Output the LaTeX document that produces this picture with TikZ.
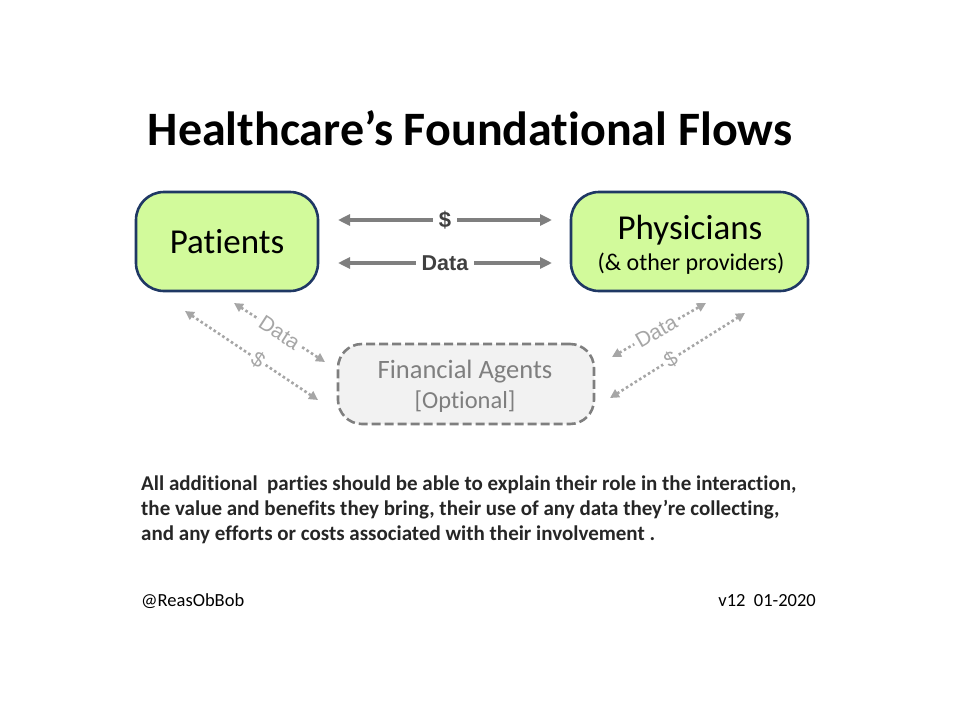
\documentclass[tikz,border=0pt]{standalone}
\usepackage{fontspec}
\setmainfont{Carlito}[Ligatures={NoCommon}]
\newfontfamily\arialf{Liberation Sans}
\usetikzlibrary{arrows.meta}
\definecolor{boxgreen}{RGB}{210,250,155}
\definecolor{boxnavy}{RGB}{31,56,100}
\definecolor{arrgray}{RGB}{127,127,127}
\definecolor{lblgray}{RGB}{64,64,64}
\definecolor{dotgray}{RGB}{166,166,166}
\definecolor{fagray}{RGB}{242,242,242}
\definecolor{txtdark}{RGB}{38,38,38}
\tikzset{
  partybox/.style={draw=boxnavy, line width=2.6pt, fill=boxgreen, rounded corners=28pt, inner sep=0pt},
  agentbox/.style={draw=arrgray, line width=2.6pt, dash pattern=on 9pt off 4pt, fill=fagray, rounded corners=24pt, inner sep=0pt},
  solidflow/.style={draw=arrgray, line width=3.8pt, {Triangle[length=12pt,width=11pt]}-{Triangle[length=12pt,width=11pt]}},
  dotflow/.style={draw=dotgray, line width=2.6pt, dash pattern=on 2.6pt off 2.6pt, {Triangle[length=9pt,width=9pt]}-{Triangle[length=9pt,width=9pt]}},
  flowlbl/.style={fill=white, text=lblgray, font=\arialf\bfseries\fontsize{21.5}{24}\selectfont, inner sep=6pt},
  dotlbl/.style={fill=white, text=dotgray, font=\arialf\fontsize{21}{24}\selectfont, inner sep=3pt, sloped},
  boxtext/.style={inner sep=0pt, anchor=center},
}
\begin{document}
\begin{tikzpicture}[x=1pt,y=-1pt]
\useasboundingbox (0,0) rectangle (960,720);
% title
\node[anchor=center, font=\bfseries\fontsize{48}{56}\selectfont] (title) at (470,128) {Healthcare’s Foundational Flows};
% party boxes
\node[partybox, minimum width=182pt, minimum height=99pt] (pat) at (227,241.5) {\fontsize{35}{40}\selectfont Patients};
\node[partybox, minimum width=237pt, minimum height=99pt] (phy) at (689.5,241.5) {};
\node[boxtext, font=\fontsize{35}{38}\selectfont] (phyT) at (690,230) {Physicians};
\node[boxtext, font=\fontsize{24}{26}\selectfont] (phyS) at (691,264) {(\& other providers)};
\node[agentbox, minimum width=256pt, minimum height=80pt] (fa) at (466,384) {};
\node[boxtext, text=arrgray, font=\fontsize{26.5}{30}\selectfont] (faT) at (465,372) {Financial Agents};
\node[boxtext, text=arrgray, font=\fontsize{24.5}{26}\selectfont] (faS) at (465,402) {[Optional]};
% solid flows
\coordinate (s1a) at (338,220); \coordinate (s1b) at (552,220);
\coordinate (s2a) at (338,263); \coordinate (s2b) at (552,263);
\draw[solidflow] (s1a) -- node[flowlbl, font=\arialf\bfseries\fontsize{22}{24}\selectfont] (lbldollar) {\$} (s1b);
\draw[solidflow] (s2a) -- node[flowlbl] (lbldata) {Data} (s2b);
% dotted flows left
\coordinate (l1a) at (234,303); \coordinate (l1b) at (325,362);
\coordinate (l2a) at (185,311); \coordinate (l2b) at (318,400);
\draw[dotflow] (l1a) -- node[dotlbl] (ldata) {Data} (l1b);
\draw[dotflow] (l2a) -- node[dotlbl, pos=0.55] (ldollar) {\$} (l2b);
% dotted flows right
\coordinate (r1a) at (612,357); \coordinate (r1b) at (706,303);
\coordinate (r2a) at (610,398); \coordinate (r2b) at (745,313);
\draw[dotflow] (r1a) -- node[dotlbl, pos=0.47] (rdata) {Data} (r1b);
\draw[dotflow] (r2a) -- node[dotlbl, pos=0.45] (rdollar) {\$} (r2b);
% paragraph
\node[anchor=north west, align=left, text=txtdark, font=\bfseries\fontsize{21}{25}\selectfont, inner sep=0pt] (para) at (141,476)
  {All additional\ \ parties should be able to explain their role in the interaction,\\
   the value and benefits they bring, their use of any data they’re collecting,\\
   and any efforts or costs associated with their involvement .};
% footer
\node[anchor=west, font=\fontsize{18.5}{21}\selectfont, inner sep=0pt] (handle) at (141,601) {@ReasObBob};
\node[anchor=east, font=\fontsize{18.5}{21}\selectfont, inner sep=0pt] (ver) at (816,601) {v12\ \ 01-2020};
\end{tikzpicture}
\end{document}
